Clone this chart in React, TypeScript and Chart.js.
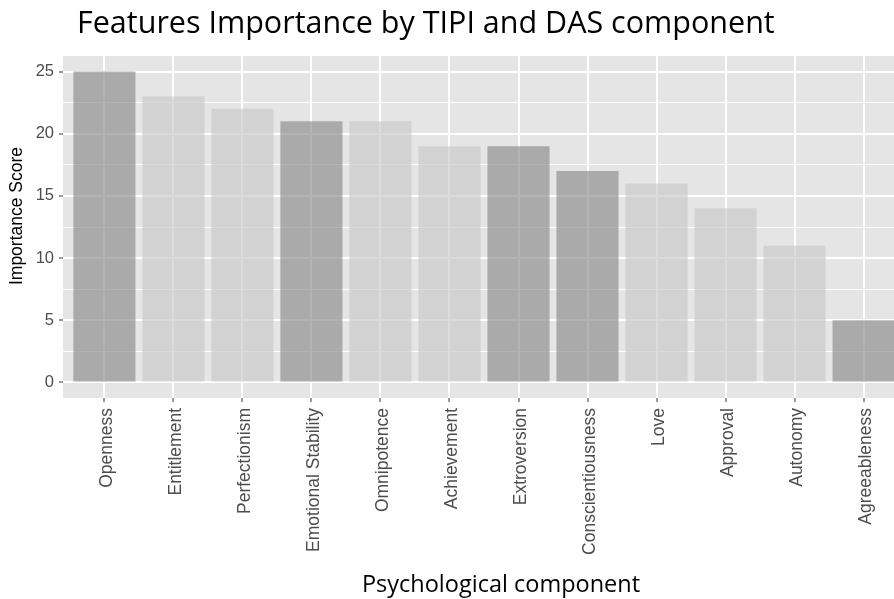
import { useEffect, useRef } from "react";
import { Chart, registerables } from "chart.js";
Chart.register(...registerables);

const categories = [
  "Openness",
  "Entitlement",
  "Perfectionism",
  "Emotional Stability",
  "Omnipotence",
  "Achievement",
  "Extroversion",
  "Conscientiousness",
  "Love",
  "Approval",
  "Autonomy",
  "Agreeableness",
];
const scores = [25, 23, 22, 21, 21, 19, 19, 17, 16, 14, 11, 5];
// TIPI components drawn dark, DAS components light
const groups = ["TIPI", "DAS", "DAS", "TIPI", "DAS", "DAS", "TIPI", "TIPI", "DAS", "DAS", "DAS", "TIPI"];
const yMajorTicks = [0, 5, 10, 15, 20, 25];
const yMinorTicks = [2.5, 7.5, 12.5, 17.5, 22.5];

const TITLE = "Features Importance by TIPI and DAS component";
const X_TITLE = "Psychological component";
const Y_TITLE = "Importance Score";

export default function App() {
  const ref = useRef<HTMLCanvasElement | null>(null);
  useEffect(() => {
    document.body.style.margin = "0";
    document.body.style.overflow = "hidden";
    const canvas = ref.current!;
    const decor = {
      id: "decor",
      beforeDraw(chart: any) {
        const { ctx, chartArea } = chart;
        ctx.save();
        ctx.fillStyle = "#e5e5e5";
        ctx.fillRect(chartArea.left, chartArea.top, chartArea.right - chartArea.left, chartArea.bottom - chartArea.top);
        ctx.restore();
      },
      afterDraw(chart: any) {
        const { ctx } = chart;
        ctx.save();
        ctx.fillStyle = "#000";
        ctx.textBaseline = "alphabetic";
        ctx.textAlign = "left";
        ctx.font = "30.5px 'Open Sans'";
        ctx.fillText(TITLE, 77, 33);
        ctx.textAlign = "center";
        ctx.font = "23.5px 'Open Sans'";
        ctx.fillText(X_TITLE, 501, 592);
        ctx.translate(17, 216);
        ctx.rotate(-Math.PI / 2);
        ctx.textBaseline = "middle";
        ctx.font = "17.5px 'Liberation Sans', Arial";
        ctx.fillText(Y_TITLE, 0, 0);
        ctx.restore();
      },
    };
    const data = scores.map((v, i) => ({ x: i, y: v }));
    const chart = new Chart(canvas, {
      type: "bar",
      data: {
        datasets: [
          {
            data,
            backgroundColor: groups.map((g) => (g === "TIPI" ? "rgba(130,130,130,0.6)" : "rgba(196,196,196,0.6)")),
            borderWidth: 0,
            barPercentage: 0.9,
            categoryPercentage: 1.0,
          },
        ],
      },
      options: {
        animation: false,
        responsive: false,
        layout: { padding: { top: 56, right: 5, left: 0, bottom: 0 } },
        plugins: { legend: { display: false }, tooltip: { enabled: false }, title: { display: false } },
        scales: {
          x: {
            type: "linear",
            offset: false,
            min: -0.6,
            max: 11.6,
            afterBuildTicks: (s: any) => {
              s.ticks = categories.map((_, i) => ({ value: i }));
            },
            afterFit: (s: any) => {
              s.height = 201;
            },
            border: { display: false },
            grid: {
              offset: false,
              color: "#ffffff",
              lineWidth: 2,
              tickColor: "#333333",
              tickLength: 4,
              tickWidth: 1,
            },
            ticks: {
              autoSkip: false,
              minRotation: 90,
              maxRotation: 90,
              padding: 6,
              labelOffset: 3,
              color: "#4d4d4d",
              font: { family: "'Liberation Sans', Arial", size: 17.5 },
              callback: (v: any) => categories[v as number] ?? "",
            },
          },
          y: {
            min: -1.25,
            max: 26.25,
            afterBuildTicks: (s: any) => {
              s.ticks = [...yMajorTicks, ...yMinorTicks].sort((a, b) => a - b).map((v) => ({ value: v }));
            },
            afterFit: (s: any) => {
              s.width = 63;
            },
            border: { display: false },
            grid: {
              color: "#ffffff",
              lineWidth: (c: any) => (yMajorTicks.includes(c.tick?.value) ? 2 : 1),
              tickColor: (c: any) => (yMajorTicks.includes(c.tick?.value) ? "#333333" : "rgba(0,0,0,0)"),
              tickLength: 4,
              tickWidth: 1,
            },
            ticks: {
              padding: 5,
              color: "#4d4d4d",
              font: { family: "'Liberation Sans', Arial", size: 16.5 },
              callback: (v: any) => (yMajorTicks.includes(v) ? String(v) : ""),
            },
          },
        },
      },
      plugins: [decor],
    } as any);
    return () => chart.destroy();
  }, []);
  return (
    <div style={{ width: 894, height: 599, overflow: "hidden", background: "#fff" }}>
      <canvas ref={ref} width={910} height={599} style={{ display: "block" }} />
    </div>
  );
}
